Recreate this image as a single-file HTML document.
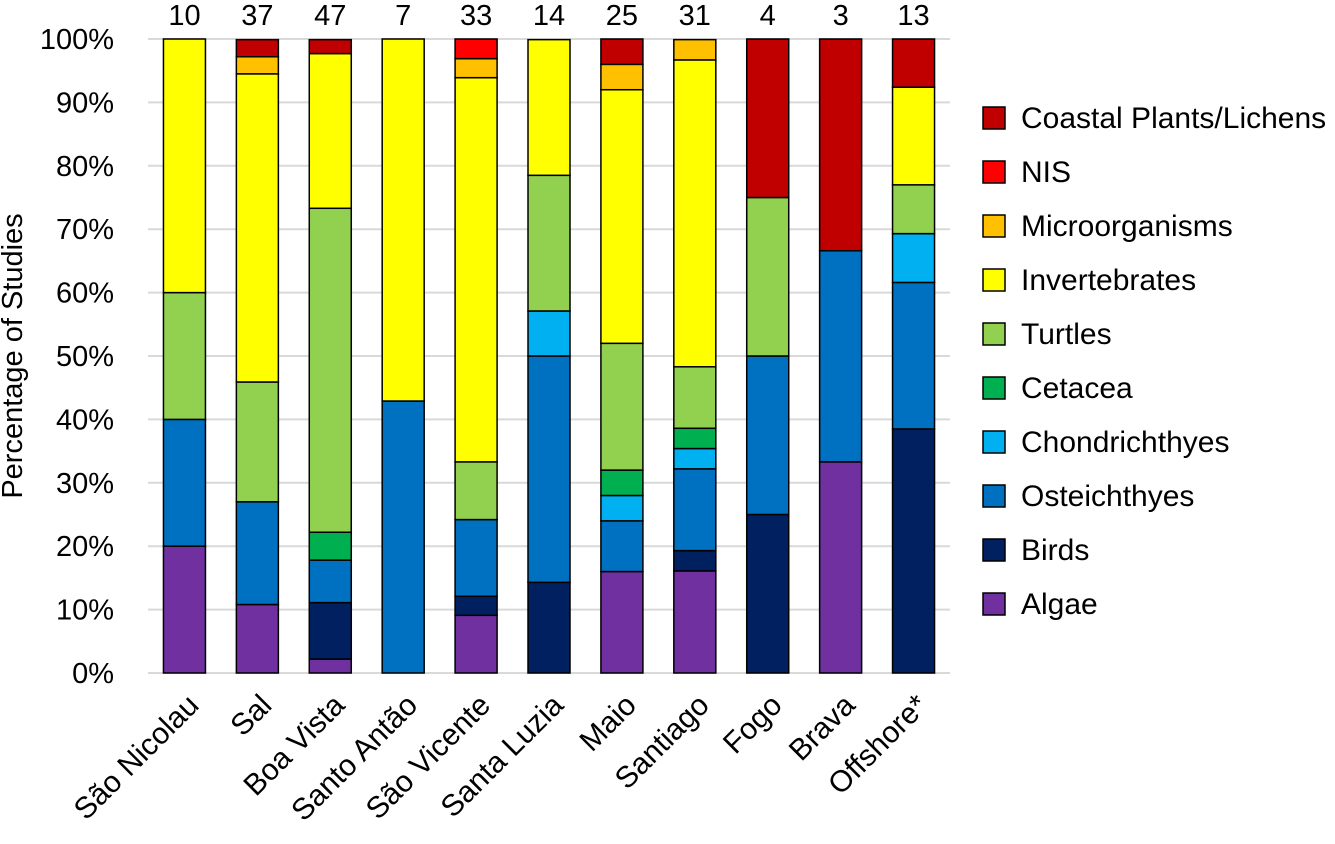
<!DOCTYPE html>
<html><head><meta charset="utf-8"><style>
body{margin:0;background:#fff;}
svg text{font-family:"Liberation Sans",Calibri,sans-serif;fill:#000;}
</style></head><body>
<svg id="chart" width="1335" height="839"></svg>
<script>
const categories=["São Nicolau","Sal","Boa Vista","Santo Antão","São Vicente","Santa Luzia","Maio","Santiago","Fogo","Brava","Offshore*"];
const counts=[10,37,47,7,33,14,25,31,4,3,13];
const seriesNames=["Algae","Birds","Osteichthyes","Chondrichthyes","Cetacea","Turtles","Invertebrates","Microorganisms","NIS","Coastal Plants/Lichens"];
const seriesColors=["#7030A0","#002060","#0070C0","#00B0F0","#00B050","#92D050","#FFFF00","#FFC000","#FF0000","#C00000"];
const algae=[20,10.8,2.2,0,9.1,0,16,16.1,0,33.3,0];
const birds=[0,0,8.9,0,3.0,14.3,0,3.2,25,0,38.5];
const osteichthyes=[20,16.2,6.7,42.9,12.1,35.7,8,12.9,25,33.3,23.1];
const chondrichthyes=[0,0,0,0,0,7.1,4,3.2,0,0,7.7];
const cetacea=[0,0,4.4,0,0,0,4,3.2,0,0,0];
const turtles=[20,18.9,51.1,0,9.1,21.4,20,9.7,25,0,7.7];
const invertebrates=[40,48.6,24.4,57.1,60.6,21.4,40,48.4,0,0,15.4];
const microorganisms=[0,2.7,0,0,3.0,0,4,3.2,0,0,0];
const nis=[0,0,0,0,3.1,0,0,0,0,0,0];
const coastal=[0,2.7,2.2,0,0,0,4,0,25,33.4,7.6];
const series=[algae,birds,osteichthyes,chondrichthyes,cetacea,turtles,invertebrates,microorganisms,nis,coastal];
const yTicks=[0,10,20,30,40,50,60,70,80,90,100];

const NS="http://www.w3.org/2000/svg";
const svg=document.getElementById('chart');
const x0=148,x1=950,yBottom=673,yTop=39,barW=42;
const step=(x1-x0)/categories.length;
const xC=i=>x0+step*(i+0.5);
const yS=v=>yBottom-(yBottom-yTop)*v/100;
function mk(tag,attrs,parent){const e=document.createElementNS(NS,tag);for(const k in attrs)e.setAttribute(k,attrs[k]);(parent||svg).appendChild(e);return e;}

yTicks.forEach(t=>{
  const g=mk('line',{x1:x0,x2:x1,y1:yS(t),y2:yS(t),stroke:'#d9d9d9','stroke-width':2});
  
  
  const l=mk('text',{x:114,y:yS(t)+10,'font-size':29,'text-anchor':'end'});
  l.textContent=t+'%';
  
  
});
const yt=mk('text',{x:0,y:0,'font-size':29,'text-anchor':'middle',transform:'translate(22,356) rotate(-90)'});
yt.textContent='Percentage of Studies';



categories.forEach((c,i)=>{
  let acc=0;
  series.forEach((s,k)=>{
    const v=s[i];if(!v)return;
    const r=mk('rect',{x:xC(i)-barW/2,y:yS(acc+v),width:barW,height:yS(acc)-yS(acc+v),fill:seriesColors[k],stroke:'#000','stroke-width':1.5});
    
    
    acc+=v;
  });
  const n=mk('text',{x:xC(i),y:25,'font-size':29,'text-anchor':'middle'});
  n.textContent=counts[i];
  
  
  const xl=mk('text',{x:0,y:0,'font-size':30,'text-anchor':'end',transform:`translate(${xC(i)+16},${yS(0)+34}) rotate(-45)`});
  xl.textContent=c;
  
  
});

for(let k=seriesNames.length-1,row=0;k>=0;k--,row++){
  const y=118+row*54;
  const r=mk('rect',{x:983,y:y-11,width:22,height:22,fill:seriesColors[k],stroke:'#000','stroke-width':1.5});
  
  
  const t=mk('text',{x:1021,y:y+10,'font-size':30});
  t.textContent=seriesNames[k];
  
  
}
</script>
</body></html>
